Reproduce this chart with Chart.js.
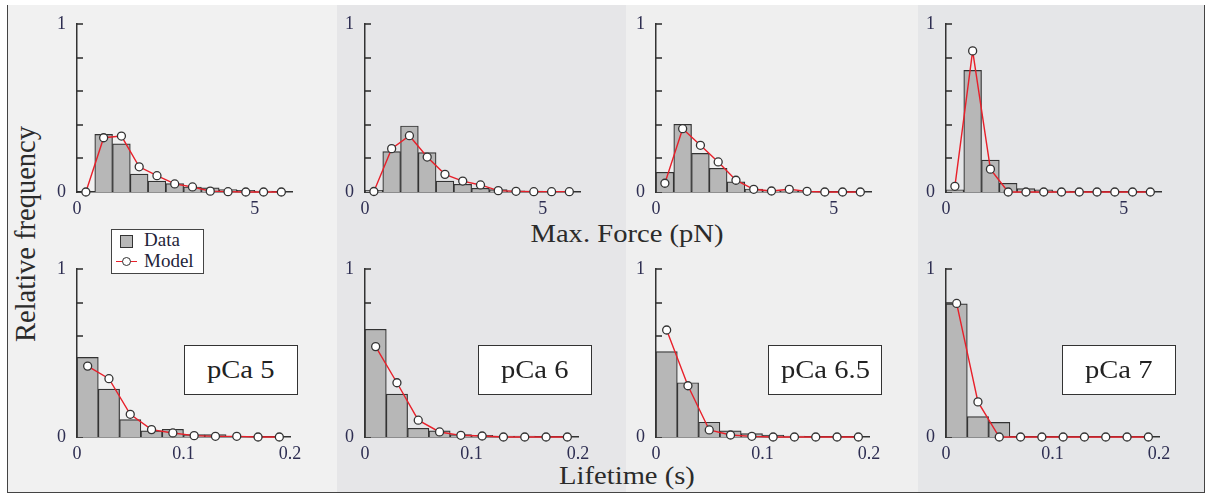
<!DOCTYPE html>
<html>
<head>
<meta charset="utf-8">
<script src="https://cdn.jsdelivr.net/npm/chart.js@4/dist/chart.umd.min.js"></script>
<style>
  body { margin: 0; background: #fff; width: 1207px; height: 495px; position: relative; overflow: hidden; font-family: "Liberation Serif", serif; }
  .col { position: absolute; top: 5px; height: 488px; }
  #frame { position: absolute; left: 7px; top: 5px; width: 1196px; height: 487px; border: 1.5px solid #444; border-top: none; }
  .panel { position: absolute; }
  .title { position: absolute; color: #2b2b2b; white-space: nowrap; }
  .pca { position: absolute; width: 112px; height: 48px; background: #fff; border: 1.3px solid #333;
         font-size: 26px; color: #222; text-align: center; line-height: 48px; }
  .pca span { display: inline-block; transform: scaleX(1.1); }
  #legend { position: absolute; left: 111px; top: 229px; width: 91px; height: 43px; background: #fff; border: 1.5px solid #444; }
  #legend div { position: absolute; font-size: 19px; color: #1f1f3a; white-space: nowrap; }
</style>
</head>
<body>
<div class="col" style="left:8px;width:329px;background:#f1f1f1"></div>
<div class="col" style="left:337px;width:289px;background:#e6e6e8"></div>
<div class="col" style="left:626px;width:292px;background:#efefef"></div>
<div class="col" style="left:918px;width:287px;background:#e5e6e8"></div>
<div id="frame"></div>

<div class="title" style="left:627px;top:219px;font-size:26px;transform:translateX(-50%) scaleX(1.1)">Max. Force (pN)</div>
<div class="title" style="left:627px;top:461px;font-size:26px;transform:translateX(-50%) scaleX(1.1)">Lifetime (s)</div>
<div class="title" style="left:26px;top:234px;font-size:28.5px;transform:translate(-50%,-50%) scaleX(1.05) rotate(-90deg)">Relative frequency</div>

<div id="legend">
  <div style="left:8px;top:5px;width:11px;height:11px;background:#b8b8b8;border:1.3px solid #333"></div>
  <div style="left:32px;top:-1px">Data</div>
  <div style="left:4px;top:31px;width:21px;height:1.4px;background:#e8202a"></div>
  <div style="left:10px;top:27px;width:7px;height:7px;border-radius:50%;background:#fff;border:1.3px solid #333"></div>
  <div style="left:32px;top:20px">Model</div>
</div>

<script>
// Bin centres (histogram categories)
const forceBins = [0.25, 0.75, 1.25, 1.75, 2.25, 2.75, 3.25, 3.75, 4.25, 4.75, 5.25, 5.75];
const lifeBins = [0.01, 0.03, 0.05, 0.07, 0.09, 0.11, 0.13, 0.15, 0.17, 0.19];

// Tick labels
const forceTicks = [0, 5];
const lifeTicks = [0, 0.1, 0.2];
const freqTicks = [0, 0.2, 0.4, 0.6, 0.8, 1];
const freqTickLabels = ['0', '', '', '', '', '1'];

const pcaNames = ['pCa 5', 'pCa 6', 'pCa 6.5', 'pCa 7'];

// Max. force histograms (data) and model
const forceData5 = [0, 0.343, 0.286, 0.107, 0.065, 0.05, 0.03, 0.025, 0.015, 0.01, 0.005, 0];
const forceModel5 = [0, 0.323, 0.333, 0.15, 0.097, 0.048, 0.03, 0.005, 0.002, 0, 0, 0];
const forceData6 = [0.01, 0.24, 0.393, 0.234, 0.065, 0.046, 0.022, 0.014, 0.007, 0.005, 0.003, 0];
const forceModel6 = [0.003, 0.258, 0.335, 0.208, 0.105, 0.065, 0.042, 0.008, 0.004, 0.002, 0.002, 0.002];
const forceData65 = [0.117, 0.403, 0.23, 0.141, 0.06, 0.018, 0.008, 0.006, 0.004, 0, 0, 0];
const forceModel65 = [0.052, 0.377, 0.278, 0.179, 0.07, 0.016, 0.006, 0.016, 0.004, 0, 0, 0];
const forceData7 = [0.013, 0.724, 0.19, 0.052, 0.02, 0.013, 0.005, 0, 0, 0, 0, 0];
const forceModel7 = [0.034, 0.84, 0.136, 0, 0, 0, 0, 0, 0, 0, 0, 0];

// Lifetime histograms (data) and model
const lifeData5 = [0.474, 0.285, 0.104, 0.036, 0.046, 0.014, 0.014, 0, 0, 0];
const lifeModel5 = [0.422, 0.347, 0.135, 0.044, 0.024, 0.008, 0.004, 0.004, 0, 0];
const lifeData6 = [0.641, 0.255, 0.052, 0.036, 0.014, 0.01, 0.005, 0.005, 0, 0];
const lifeModel6 = [0.538, 0.323, 0.1, 0.03, 0.01, 0.006, 0, 0, 0, 0];
const lifeData65 = [0.508, 0.323, 0.088, 0.036, 0.02, 0.012, 0.006, 0, 0, 0];
const lifeModel65 = [0.637, 0.305, 0.042, 0.012, 0.004, 0, 0, 0, 0, 0];
const lifeData7 = [0.793, 0.121, 0.087, 0, 0, 0, 0, 0, 0, 0];
const lifeModel7 = [0.795, 0.209, 0, 0, 0, 0, 0, 0, 0, 0];

const forceDataSets = [forceData5, forceData6, forceData65, forceData7];
const forceModelSets = [forceModel5, forceModel6, forceModel65, forceModel7];
const lifeDataSets = [lifeData5, lifeData6, lifeData65, lifeData7];
const lifeModelSets = [lifeModel5, lifeModel6, lifeModel65, lifeModel7];

// Layout
const axisLeft = [77, 365, 656, 946];
const PAD_L = 40, PAD_T = 12, PAD_R = 14, AX_H = 30, PLOT_H = 168;
const tickColor = '#2e2e52';
const tickFont = { family: 'Liberation Serif', size: 18 };

/*
    Small tick marks pointing into the plot along the y axis
*/
const innerTicks = {
    id: 'innerTicks',
    beforeDatasetsDraw(chart) {
        let ctx = chart.ctx;
        let y = chart.scales.y;
        let left = chart.chartArea.left;
        ctx.save();
        ctx.strokeStyle = '#2a2a2a';
        ctx.lineWidth = 1.5;
        freqTicks.forEach(v => {
            let py = Math.round(y.getPixelForValue(v));
            ctx.beginPath();
            ctx.moveTo(left, py);
            ctx.lineTo(left + 6, py);
            ctx.stroke();
        });
        ctx.restore();
    }
};

/*
    Build one histogram + model panel
*/
function makePanel(left, top, plotW, bins, xMax, xTicks, bars, model) {
    let canvas = document.createElement('canvas');
    canvas.width = PAD_L + plotW + PAD_R;
    canvas.height = PAD_T + PLOT_H + AX_H;
    canvas.className = 'panel';
    canvas.style.left = (left - PAD_L) + 'px';
    canvas.style.top = (top - PAD_T) + 'px';
    document.body.insertBefore(canvas, document.getElementById('legend'));

    new Chart(canvas.getContext('2d'), {
        type: 'bar',
        data: {
            datasets: [
                {
                    type: 'line',
                    data: bins.map((x, i) => ({ x: x, y: model[i] })),
                    borderColor: '#e8202a',
                    borderWidth: 1.4,
                    pointRadius: 4,
                    pointBackgroundColor: '#fff',
                    pointBorderColor: '#333',
                    pointBorderWidth: 1.3,
                    tension: 0,
                    clip: false,
                    order: 0
                },
                {
                    type: 'bar',
                    data: bins.map((x, i) => ({ x: x, y: bars[i] })),
                    backgroundColor: '#b7b7b7',
                    borderColor: '#333',
                    borderWidth: 1.2,
                    barPercentage: 1,
                    categoryPercentage: 1,
                    order: 1
                }
            ]
        },
        options: {
            responsive: false,
            animation: false,
            devicePixelRatio: 1,
            layout: { padding: { top: PAD_T, right: PAD_R, left: 0, bottom: 0 } },
            plugins: { legend: { display: false }, tooltip: { enabled: false } },
            scales: {
                x: {
                    type: 'linear',
                    min: 0,
                    max: xMax,
                    offset: false,
                    afterBuildTicks: s => { s.ticks = xTicks.map(v => ({ value: v })); },
                    afterFit: s => { s.height = AX_H; s.paddingLeft = 0; s.paddingRight = 0; },
                    grid: { display: false, drawTicks: false, offset: false },
                    border: { color: '#333', width: 1.5 },
                    ticks: { padding: 6, color: tickColor, font: tickFont, maxRotation: 0, callback: v => String(v) }
                },
                y: {
                    min: 0,
                    max: 1,
                    afterBuildTicks: s => { s.ticks = freqTicks.map(v => ({ value: v })); },
                    afterFit: s => { s.width = PAD_L; s.paddingTop = 0; s.paddingBottom = 0; },
                    grid: { display: false, drawTicks: false },
                    border: { color: '#333', width: 1.5 },
                    ticks: { padding: 11, color: tickColor, font: tickFont, callback: (v, i) => freqTickLabels[i] }
                }
            }
        },
        plugins: [innerTicks]
    });
}

for (let i = 0; i < 4; i++) {
    makePanel(axisLeft[i], 24, 215, forceBins, 6.05, forceTicks, forceDataSets[i], forceModelSets[i]);
    makePanel(axisLeft[i], 269, 213, lifeBins, 0.2, lifeTicks, lifeDataSets[i], lifeModelSets[i]);
}

// pCa labels
const pcaLeft = [184, 478, 768, 1062];
pcaNames.forEach((name, i) => {
    let box = document.createElement('div');
    box.className = 'pca';
    box.style.left = pcaLeft[i] + 'px';
    box.style.top = '345px';
    let label = document.createElement('span');
    label.textContent = name;
    box.appendChild(label);
    document.body.appendChild(box);
});
</script>
</body>
</html>
